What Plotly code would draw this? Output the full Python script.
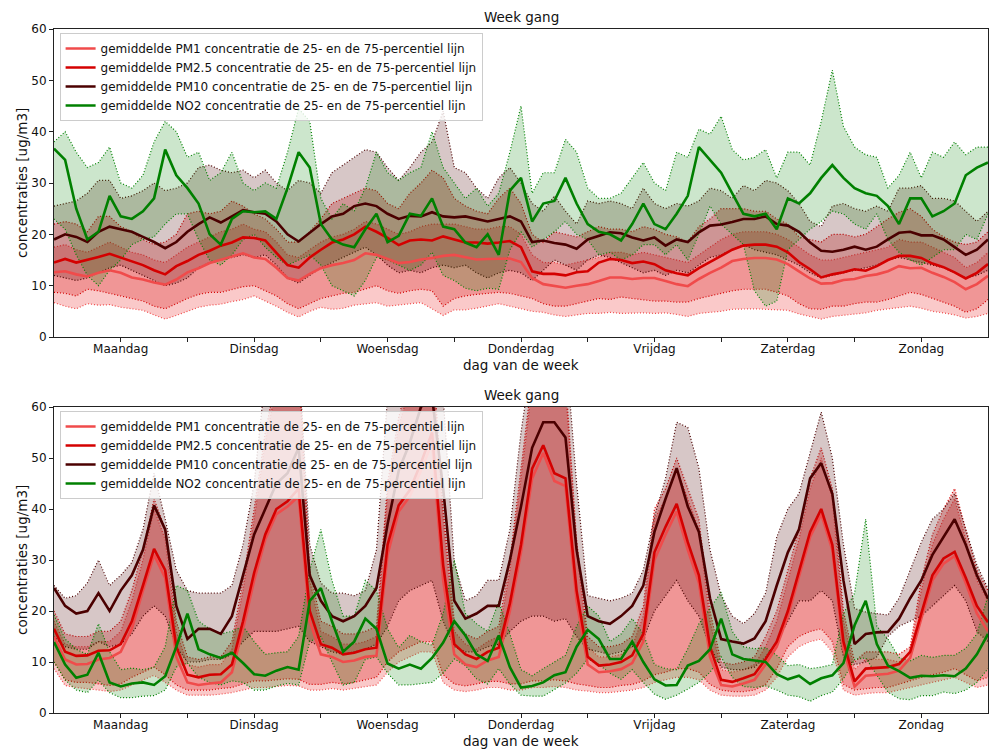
import plotly.graph_objects as go

# Two-hourly samples across one week (Monday 00:00 .. Monday 00:00)
HOURS = list(range(0, 169, 2))
DAY_LABELS = ["Maandag", "Dinsdag", "Woensdag", "Donderdag", "Vrijdag", "Zaterdag", "Zondag"]
DAY_CENTRES = [12, 36, 60, 84, 108, 132, 156]
DAY_EDGES = [24, 48, 72, 96, 120, 144]
Y_TICKS = [0, 10, 20, 30, 40, 50, 60]

POLLUTANTS = ["PM1", "PM2.5", "PM10", "NO2"]

# ---------------- upper panel ----------------
T_PM1_MEAN = [
    12.6, 12.8, 12.2, 11.8, 12.5, 13, 12.5, 11.6, 11.2, 10.6, 10.2, 11.2,
    12.6, 13.4, 14.4, 15, 15.7, 16.3, 15.5, 15.2, 13.5, 11.5, 11, 12.3,
    13.4, 14, 14.4, 15, 16.3, 16, 15.2, 14.4, 14.6, 15.1, 15.4, 15.8,
    16, 15.6, 15.1, 15.2, 15.2, 15.3, 14.6, 11.5, 10.3, 10, 9.6, 10,
    10.3, 10.9, 11.6, 11.6, 11.3, 11.5, 11.5, 10.9, 10.3, 9.9, 11.3, 12.5,
    13.5, 14.8, 15.2, 15.4, 15.4, 15.1, 14.2, 12.8, 11.4, 10.4, 10.5, 11.1,
    11.3, 11.9, 12.2, 12.8, 13.8, 13.4, 13.5, 12.5, 11.7, 10.7, 9.3, 10.3,
    11.9,
]
T_PM1_P75 = [
    17.5, 18, 17, 16.5, 17.5, 18.5, 17.5, 16.5, 16, 15, 14.5, 16,
    17.5, 18.5, 19.5, 20.5, 21, 22, 21, 20.5, 18.5, 16, 15.5, 17,
    18.5, 19.5, 20, 21, 22.5, 22, 21, 20, 20.5, 21.5, 22, 22,
    22, 21.5, 21, 21, 21.5, 21.5, 20, 16, 14.5, 14.5, 14, 14.5,
    15, 15.5, 16.5, 16.5, 16, 16.5, 16, 15.5, 15, 14.5, 16, 17.5,
    19, 20, 20.5, 20.5, 20.5, 20, 19, 17.5, 16, 15, 15, 15.5,
    16, 16.5, 17, 17.5, 19, 18.5, 18.5, 17.5, 16.5, 15.5, 13.5, 14.5,
    16.5,
]
T_PM1_P25 = [
    6.7, 6, 5.5, 6.5, 6.2, 6.3, 5.8, 5.5, 5.2, 4.3, 3.5, 4.2,
    5, 5.8, 6.2, 6.4, 6.9, 7.3, 8, 7, 6, 4.8, 3.9, 5,
    5.8, 5.4, 5.6, 6.2, 6.5, 6.7, 6, 6.2, 6.5, 6.7, 5.5, 4.2,
    5.3, 5.3, 5.6, 6, 6.5, 6, 5.5, 5, 4.8, 4.3, 4, 4.3,
    4.6, 4.6, 4.8, 4.6, 4.7, 4.7, 4.6, 4.7, 4.4, 4, 4.6, 4.8,
    5, 5.4, 5.5, 5.5, 5.4, 5.3, 5.2, 4.5, 4, 3.5, 4, 4.2,
    4.5, 4.7, 5.2, 5.5, 5.8, 6, 5.6, 5, 4.7, 4.3, 3.7, 4,
    4.6,
]
T_PM25_MEAN = [
    14.5, 15.2, 14.5, 15, 15.6, 16.2, 15.5, 14.7, 14, 13, 12.2, 13.8,
    14.8, 16, 16.8, 17.8, 18.4, 19.4, 19.3, 18.8, 16.5, 14, 13.5, 15.5,
    17, 18.4, 19, 20, 21.5, 20.5, 19.3, 17.9, 18.8, 19, 18.8, 19.6,
    19, 18.4, 18.4, 18.2, 18.4, 18.7, 17.5, 12.8, 12.3, 12.3, 12, 12.6,
    12.8, 14.5, 15.2, 15, 14.4, 14.7, 14.2, 13, 12.4, 12, 13.4, 14.6,
    15.8, 17, 17.8, 18, 18, 17.6, 16.5, 14.6, 13.2, 11.6, 12.2, 12.6,
    13.2, 12.9, 13.8, 15, 15.8, 15.8, 15.4, 14.3, 13.6, 12.6, 11.4, 12.5,
    14.2,
]
T_PM25_P75 = [
    22, 22.5, 22, 20.5, 23.5, 23.5, 21.5, 20.5, 19, 18, 18.5, 20,
    24, 24.5, 24, 24.5, 26.5, 25.5, 24, 23, 21, 18.5, 18.5, 20.5,
    23, 26, 27, 28, 29, 28.5, 26, 25, 28, 30, 32.5, 31,
    27, 25.5, 24.5, 24, 27, 29, 26, 20, 18.4, 20.5, 20, 19.5,
    20.5, 21.5, 21, 21, 20.5, 21.5, 21, 20, 19.5, 18.5, 21.5, 23,
    25, 25, 25, 24.5, 24.5, 23, 22, 19.5, 19, 18.5, 20, 20,
    19.5, 20, 21.5, 23, 24.3, 25, 23.5, 21, 19.5, 18.5, 18, 18.5,
    20.5,
]
T_PM25_P25 = [
    8.7, 8.5, 8, 9.3, 9, 8.5, 8, 7.5, 7, 6, 5.5, 6.5,
    7.5, 8.3, 8.7, 8.7, 9.3, 9.8, 10, 9, 8, 6.5, 5.5, 6.5,
    7.5, 8, 8.5, 8.7, 9.3, 10, 9, 8.5, 9, 9.3, 9, 6,
    7.5, 8, 8.3, 8.5, 8.7, 8.5, 8, 7.5, 6.5, 6, 6, 6.5,
    7, 7.5, 7.3, 7.8, 7.5, 7.3, 7, 7, 6.8, 6.8, 7.5, 8,
    8.5, 9, 9.3, 9.3, 9.3, 8.7, 8, 6.5, 5.5, 5.4, 6, 6,
    6.5, 6.8, 6.8, 7.3, 8, 8.7, 8.3, 7.5, 6.8, 6, 4.8, 5.5,
    7.3,
]
T_PM10_MEAN = [
    19, 20, 19.5, 18.5, 20.5, 21.5, 21, 20.5, 19.5, 18.5, 17.3, 18.5,
    20.5, 22, 23.3, 22.3, 23.5, 24.7, 24.3, 24, 22.5, 20, 18.6, 20.3,
    22, 23.5, 24, 25.5, 26, 25.5, 24, 23, 23.6, 23.5, 24.3, 23.5,
    23.3, 23.5, 23, 22.5, 23, 23.5, 22.5, 18.5, 18.8, 18.3, 18, 17.2,
    19, 19.7, 20.4, 20.2, 19.4, 18.8, 19.4, 17.8, 19, 18.5, 20.4, 21.7,
    21.9, 22.4, 23, 23, 23.5, 22, 21.7, 20.5, 18.4, 16.8, 16.6, 17,
    17.6, 17, 17.6, 19, 20.3, 20.5, 19.8, 19.8, 19, 17.5, 16, 17,
    19,
]
T_PM10_P75 = [
    25.5, 26, 26.5, 28, 30.5, 30.5, 27, 27.5, 28.5, 30, 28.5, 29,
    30, 33, 33.5, 32.5, 32, 32.5, 31, 32.5, 30, 28.5, 30.5, 30,
    28, 32, 33.5, 35, 36.5, 36, 33, 30.5, 33, 36, 38, 44,
    33, 32, 29, 27, 31, 33, 30, 26, 24.5, 27.5, 24.5, 22,
    26.5, 26, 26.5, 26, 25, 29, 26, 25, 26, 25.5, 26.5, 29,
    28.5, 27, 29.5, 28.5, 30.5, 30, 28.5, 26, 22.5, 21.5, 25.5, 26,
    25, 24.5, 25.5, 24.5, 29, 29, 29.5, 27, 27, 26.5, 24.5, 22.5,
    24.5,
]
T_PM10_P25 = [
    12, 11.5, 11, 11.5, 12.5, 13.5, 14, 13, 12, 11, 10, 10.5,
    11.5, 13.5, 14.5, 15, 15.5, 16, 15.5, 16, 14, 11.5, 10.5, 12,
    13.5, 14.5, 15.5, 16.5, 17.5, 16, 14, 12.5, 13, 12.5, 13.5, 14,
    13.5, 14, 12.5, 11.5, 12.5, 13, 12.5, 11, 13, 15, 14, 13,
    15, 16, 15.5, 14.5, 13.5, 12.5, 13, 12, 13, 12.5, 14, 15.5,
    16, 17, 18, 17, 16.5, 16, 15, 14, 12.5, 11.5, 12, 12.5,
    13, 13.5, 14, 15, 15.5, 15, 14.5, 14, 13.5, 12.5, 11.5, 12,
    13,
]
T_NO2_MEAN = [
    36.7, 34.5, 25, 19, 20.5, 27.5, 23.5, 23, 24.5, 27, 36.5, 31.5,
    29, 26, 20, 18, 23, 24.5, 24.3, 24.5, 23, 29, 36, 33,
    22, 19, 18, 17.5, 21, 24, 18.5, 19.7, 24, 23.6, 27, 21.5,
    21, 18.4, 17.5, 20, 16, 28.5, 31, 22.5, 26, 26.5, 31, 26,
    22, 20.5, 20, 18.8, 22, 26, 22, 21, 24, 27.5, 37, 34.5,
    32, 28, 24, 23.5, 24, 21, 27, 26, 28, 31, 33.5, 31,
    29, 28, 27.5, 25.5, 22, 27, 27, 23.5, 24.5, 26, 31.5, 33,
    34,
]
T_NO2_P75 = [
    38, 40, 36, 33, 34, 37, 30, 29, 31.5, 38, 42, 40,
    35, 36, 30.5, 32, 36, 30, 28.5, 30, 29, 36, 44.5, 42,
    27, 23, 26, 24.5, 29, 36, 32, 30.5, 32, 33, 40, 33,
    30, 27, 29, 25.5, 28, 36, 45, 28, 32, 32, 38.5, 36,
    29, 27, 27, 28, 31, 34, 30, 28.5, 36, 35, 40.5, 39.5,
    43, 36.5, 34.5, 35, 36.5, 31, 36, 36, 33.5, 42, 52, 41,
    37, 35.5, 35, 29, 31.5, 36, 31, 36, 35, 38, 35.5, 37,
    37,
]
T_NO2_P25 = [
    23, 21, 16, 12, 10, 13, 15, 18, 19, 19.5, 22, 24,
    24, 19, 15, 14, 16, 19, 20, 17.5, 15.5, 14, 15, 16,
    14, 10, 9, 8, 11, 15.5, 15, 14, 13, 14, 16.5, 12,
    11, 9.5, 9, 9.5, 9.3, 17, 20.5, 17.5, 19, 20.5, 22.5, 20,
    19, 16, 16.5, 15, 16, 18, 18, 16, 18, 15, 20, 25.5,
    22, 20, 18, 9, 6, 7, 17, 19, 21, 22.5, 24.5, 24,
    22, 21, 24, 19, 16.5, 15, 14, 15.5, 17, 17, 20, 19,
    24,
]

# ---------------- lower panel ----------------
B_PM1_MEAN = [
    15, 10.5, 9.5, 9.6, 10.5, 10.8, 12, 16.5, 24, 31, 26.5, 11,
    6, 5.5, 5.8, 6, 8, 16.5, 26, 34, 39, 40.5, 42.5, 18,
    11.5, 11, 10, 10.3, 11, 11.2, 31, 39.5, 42.5, 47.5, 53, 26,
    11.5, 9.5, 9, 10.3, 11, 20, 31.5, 46, 51, 45.5, 44.5, 22,
    9.5, 8, 8.2, 8.6, 9.8, 14, 30, 35, 39.5, 32, 25.5, 11,
    5.5, 5.2, 5.8, 6.5, 9.5, 13, 19, 26.5, 34.5, 39, 32, 12.5,
    5.2, 7.3, 7.5, 7.7, 8.3, 10.8, 18.5, 26, 29.3, 30.8, 25.5, 19.5,
    16,
]
B_PM1_P75 = [
    18, 13.5, 13, 13, 14, 14, 16, 22, 30, 40, 34, 16,
    9.5, 9, 9.5, 9.5, 12.5, 24, 38, 53, 64, 68, 68, 26,
    16, 15, 13.5, 13.5, 14, 15, 43, 56, 64, 68, 70, 38,
    16, 13.5, 12.5, 14, 15, 28, 46, 64, 70, 68, 64, 32,
    13, 11, 11, 11.5, 13, 19, 38, 42, 48, 42, 36, 18,
    8.5, 8, 8.5, 9.5, 13, 18, 26, 34, 44, 50, 42, 18,
    8.5, 10.5, 10.5, 10.5, 10, 12, 24, 33, 38, 42, 34, 26,
    22,
]
B_PM1_P25 = [
    8.7, 5.4, 5, 4.8, 4.5, 4.2, 4.5, 5.5, 6.5, 7.4, 6, 4.5,
    3.5, 3.5, 3.5, 3.7, 4, 4.5, 5, 5, 5.2, 5.4, 5.3, 4.5,
    4.5, 4.8, 4.5, 4.8, 5.2, 5.5, 8, 10, 11, 12, 12, 6,
    4.5, 4.2, 4.5, 5, 5, 4.5, 4.5, 5, 5, 5.2, 5, 4.5,
    4.3, 4, 4, 4.3, 4.5, 5, 6, 6.5, 7, 7, 6.5, 4.5,
    3.5, 3.3, 3.3, 3.5, 4.5, 7, 11, 13, 14, 14.5, 12, 4.5,
    3.5, 3.8, 4, 4, 4.5, 5, 5.5, 6, 6.5, 7, 6, 5,
    5.5,
]
B_PM25_MEAN = [
    16.5, 12, 11.2, 11.3, 12.2, 12.3, 13.5, 18, 25, 32.2, 28, 13,
    7.5, 7, 7.5, 7.6, 9.5, 18, 27.5, 35, 40, 41.5, 44, 20,
    13.5, 12.8, 11.5, 11.8, 12.5, 12.8, 33, 40.7, 43.7, 49, 55, 29,
    13.5, 11.5, 10.6, 12, 12.8, 21.5, 33, 47.9, 52.5, 47, 46, 24,
    11, 9.3, 9.5, 10, 11.3, 15.5, 31.5, 36.5, 41, 33.5, 27, 13,
    6.5, 6.1, 6.8, 7.6, 10.6, 14, 20, 27.5, 35.5, 40, 33, 14,
    6.2, 8.7, 8.9, 9, 9.6, 12, 19.5, 27, 30.3, 31.6, 26.5, 21,
    17.8,
]
B_PM25_P75 = [
    20, 15.5, 15, 15, 16, 16, 18, 24, 32, 42, 36, 18,
    11, 10.5, 11, 11, 14, 26, 40, 55, 66, 70, 70, 28,
    18, 17, 15.5, 15.5, 16, 17, 45, 58, 66, 70, 72, 40,
    18, 15.5, 14.5, 16, 17, 30, 48, 66, 72, 70, 66, 34,
    15, 13, 13, 13.5, 15, 21, 40, 44, 50, 44, 38, 20,
    10, 9.5, 10, 11, 15, 20, 28, 36, 46, 52, 44, 20,
    10, 12, 12, 12, 11.5, 13, 26, 35, 40, 44, 36, 28,
    24,
]
B_PM25_P25 = [
    10, 6.5, 6, 6, 5.7, 5.4, 5.7, 7, 8, 9, 7.5, 5.5,
    4.5, 4.5, 4.5, 4.8, 5, 5.7, 6.3, 6.3, 6.5, 6.7, 6.6, 5.6,
    5.6, 6, 5.7, 6, 6.5, 7, 10, 12, 13, 14, 14, 7.5,
    5.7, 5.3, 5.7, 6.2, 6.2, 5.7, 5.7, 6.3, 6.3, 6.5, 6.3, 5.7,
    5.4, 5, 5, 5.4, 5.6, 6.3, 7.5, 8, 8.7, 8.7, 8, 5.6,
    4.5, 4.2, 4.2, 4.5, 5.6, 8.7, 13, 15, 16, 16.5, 14, 5.6,
    4.5, 4.8, 5, 5, 5.6, 6.3, 7, 7.5, 8, 8.7, 7.5, 6.3,
    7,
]
B_PM10_MEAN = [
    24.5, 21, 19.5, 20, 23.5, 20, 24, 27, 32, 40.7, 36, 21,
    14.5, 16.5, 16.5, 15.5, 19, 27, 35, 40, 45, 47, 52, 27,
    22, 19, 18, 19, 21, 24.5, 37, 47.5, 53, 60, 62, 44,
    22, 18.5, 19.5, 21, 21, 30, 40.5, 52, 57, 57, 54, 32,
    19, 18, 17.5, 19, 21, 25, 35.5, 42, 48, 40.5, 35.5, 22.5,
    14.5, 14, 13.6, 14.6, 18, 25, 31.5, 36, 46, 49, 43, 26,
    13.5, 15.5, 15.8, 15.9, 18.5, 22.5, 26, 31, 34.5, 38, 33, 27,
    22.4,
]
B_PM10_P75 = [
    25, 22.5, 23, 25.5, 30, 25, 27, 29.5, 36, 47, 38, 28,
    24, 23.5, 23.5, 23.5, 25, 33, 45, 66, 70, 72, 70, 33,
    25.5, 23.5, 23.5, 23, 24, 32, 62, 70, 72, 75, 75, 62,
    29.5, 22, 23, 26, 26, 36, 55, 70, 75, 75, 72, 45,
    23, 22.5, 22, 22.5, 23.5, 28, 38.5, 46, 57, 56, 48, 32,
    23, 19, 17.5, 19.5, 23.5, 34.5, 40, 43, 51, 59, 50, 33,
    20.5, 19.8, 19.5, 19.2, 22.5, 28, 33.5, 38, 40, 43, 36, 29,
    24.4,
]
B_PM10_P25 = [
    15, 13, 12.5, 12.5, 14, 13, 13.5, 15.5, 19, 21, 19, 13,
    10, 10, 10.5, 10.5, 11.5, 14, 16, 16, 16, 16.5, 17, 14,
    13, 12, 11.5, 12, 12.5, 13.5, 17, 22, 24, 25, 26, 18,
    13, 12, 12, 13, 13.5, 16, 18, 19, 19, 18, 18.5, 15,
    12.5, 12, 11.5, 12, 13, 14.5, 20, 23, 26, 22, 19, 13,
    9, 8.5, 8.5, 9, 11, 14, 18, 22, 22, 24, 22, 11,
    9.5, 10, 11, 15, 17, 18, 19, 21, 23, 25, 22, 16,
    14,
]
B_NO2_MEAN = [
    13.9, 9.5, 6.9, 7.5, 11.8, 6, 5.2, 5.8, 6, 5.5, 7.2, 13,
    19.5, 12.5, 11.5, 10.8, 11.8, 9.8, 7.6, 7.3, 8.3, 9, 8.5, 22,
    24.5, 18, 12, 14, 18.5, 16.5, 9.7, 8.7, 9.5, 8.7, 10.8, 13.8,
    18, 15.2, 11.5, 10.2, 15.2, 9, 5, 5.3, 6, 7.4, 8, 13,
    16.3, 14.5, 10.6, 10.6, 14, 10, 6.6, 5.4, 5.5, 9.3, 10.2, 12.5,
    18.5, 11.5, 10.6, 10.3, 10, 7.6, 6.6, 7.3, 5.7, 6.8, 7.4, 9.8,
    17.2, 22, 13.5, 9.3, 8.2, 6.9, 7.3, 7.2, 7.4, 7.2, 8.7, 11.5,
    15.5,
]
B_NO2_P75 = [
    19.2, 14.5, 12.5, 11.5, 17.5, 12, 8.5, 8.8, 8.5, 9, 13, 25,
    24, 18, 16.5, 15.5, 16, 17, 14, 11.5, 11.8, 12, 15, 28,
    36, 26, 19, 19, 26, 24, 16.5, 12.8, 15.2, 14, 13.3, 19.5,
    30, 19.5, 17.5, 16, 21.8, 15.5, 8.5, 7.3, 8.7, 10, 11.3, 17,
    21, 19, 14, 15.5, 18.5, 15.5, 9.5, 8.7, 8.5, 12.6, 17.5, 20.5,
    23.7, 16, 13, 12.6, 12.8, 11.3, 9.3, 9.5, 8.7, 9, 9.5, 19.5,
    23.5, 38, 17, 14.5, 10.9, 10.2, 11.3, 10.9, 11.3, 11.3, 12.7, 15.5,
    23,
]
B_NO2_P25 = [
    10, 6.5, 4.5, 4, 6.5, 4, 3, 3, 3.3, 3.4, 4.5, 9,
    9.8, 7, 6, 5.5, 6.3, 6, 4.5, 4.5, 5.3, 5.8, 5.5, 14,
    15, 10, 5.5, 6, 10.5, 11, 7.8, 5.5, 5.5, 5.8, 6, 7.8,
    10.6, 9.3, 6.7, 5.7, 8.7, 5.7, 3.5, 3.3, 3.3, 4.6, 5.9, 7.8,
    10.6, 9.5, 7.8, 6.6, 8.5, 6, 3.7, 2.7, 3.5, 4.7, 6, 8,
    11, 7, 5.2, 5, 5.3, 4.5, 3.5, 3.2, 2.3, 3.4, 4.1, 6.7,
    10.5, 10.8, 7.5, 4.1, 2.8, 2.6, 3.4, 3.4, 4.1, 3.8, 4.5, 6,
    8.7,
]

UPPER = {
    "PM1": (T_PM1_MEAN, T_PM1_P25, T_PM1_P75),
    "PM2.5": (T_PM25_MEAN, T_PM25_P25, T_PM25_P75),
    "PM10": (T_PM10_MEAN, T_PM10_P25, T_PM10_P75),
    "NO2": (T_NO2_MEAN, T_NO2_P25, T_NO2_P75),
}
LOWER = {
    "PM1": (B_PM1_MEAN, B_PM1_P25, B_PM1_P75),
    "PM2.5": (B_PM25_MEAN, B_PM25_P25, B_PM25_P75),
    "PM10": (B_PM10_MEAN, B_PM10_P25, B_PM10_P75),
    "NO2": (B_NO2_MEAN, B_NO2_P25, B_NO2_P75),
}

for panel in (UPPER, LOWER):
    for key, arrays in panel.items():
        for arr in arrays:
            if len(arr) != len(HOURS):
                raise ValueError(f"{key}: {len(arr)} values, expected {len(HOURS)}")

LINE_COLOURS = {"PM1": "#f04b4b", "PM2.5": "#d40000", "PM10": "#4b0000", "NO2": "#008000"}
FILL_COLOURS = {
    "PM1": "rgba(240,75,75,0.30)",
    "PM2.5": "rgba(212,0,0,0.25)",
    "PM10": "rgba(75,0,0,0.22)",
    "NO2": "rgba(0,128,0,0.20)",
}

FONT = "DejaVu Sans"
fig = go.Figure()


def add_panel(data, xref, yref, legend):
    # shaded 25-75 percentile bands with dotted edges
    for key in POLLUTANTS:
        mean, p25, p75 = data[key]
        edge = dict(color=LINE_COLOURS[key], width=1.2, dash="1px,2px")
        fig.add_trace(go.Scatter(x=HOURS, y=p75, mode="lines", line=edge,
                                 xaxis=xref, yaxis=yref, showlegend=False,
                                 hoverinfo="skip"))
        fig.add_trace(go.Scatter(x=HOURS, y=p25, mode="lines", line=edge,
                                 fill="tonexty", fillcolor=FILL_COLOURS[key],
                                 xaxis=xref, yaxis=yref, showlegend=False,
                                 hoverinfo="skip"))
    # mean lines on top
    for key in POLLUTANTS:
        mean = data[key][0]
        fig.add_trace(go.Scatter(
            x=HOURS, y=mean, mode="lines",
            line=dict(color=LINE_COLOURS[key], width=2.6),
            name=f"gemiddelde {key} concentratie de 25- en de 75-percentiel lijn",
            xaxis=xref, yaxis=yref, legend=legend,
        ))


add_panel(UPPER, "x", "y", "legend")
add_panel(LOWER, "x2", "y2", "legend2")

H_TOTAL = 749 - 29 - 36
TOP_LOW = (713 - 337) / H_TOTAL
BOT_HIGH = (713 - 407) / H_TOTAL

xaxis_style = dict(
    range=[0, 168], showgrid=False, zeroline=False,
    showline=True, mirror=True, linecolor="#222222", linewidth=1,
    tickmode="array", tickvals=DAY_CENTRES, ticktext=DAY_LABELS,
    ticks="outside", ticklen=4, tickwidth=1, tickcolor="#222222",
    ticklabelstandoff=-3,
    tickfont=dict(family=FONT, size=12, color="#111111"),
    minor=dict(tickmode="array", tickvals=DAY_EDGES, ticks="outside",
               ticklen=4, tickwidth=1, tickcolor="#222222"),
)
yaxis_style = dict(
    range=[0, 60], showgrid=False, zeroline=False,
    showline=True, mirror=True, linecolor="#222222", linewidth=1,
    tickmode="array", tickvals=Y_TICKS,
    ticks="outside", ticklen=4, tickwidth=1, tickcolor="#222222",
    tickfont=dict(family=FONT, size=12, color="#111111"),
)

legend_style = dict(
    bgcolor="rgba(255,255,255,0.8)", bordercolor="#cccccc", borderwidth=1,
    font=dict(family=FONT, size=12, color="#111111"),
    xanchor="left", yanchor="top", tracegroupgap=0, traceorder="normal",
)

fig.update_layout(
    width=989, height=749,
    margin=dict(l=54, r=1, t=29, b=36),
    paper_bgcolor="white", plot_bgcolor="white",
    font=dict(family=FONT, size=12, color="#111111"),
    xaxis=dict(domain=[0, 1], anchor="y", **xaxis_style),
    yaxis=dict(domain=[TOP_LOW, 1], anchor="x", **yaxis_style),
    xaxis2=dict(domain=[0, 1], anchor="y2", **xaxis_style),
    yaxis2=dict(domain=[0, BOT_HIGH], anchor="x2", **yaxis_style),
    legend=dict(x=0.006, y=(713 - 33) / H_TOTAL, **legend_style),
    legend2=dict(x=0.006, y=(713 - 411) / H_TOTAL, **legend_style),
    showlegend=True,
)


def px_to_paper_y(py):
    return (713 - py) / H_TOTAL


def px_to_paper_x(px):
    return (px - 54) / 934


texts = [
    ("Week gang", 0.5, px_to_paper_y(17), 13.5, 0),
    ("Week gang", 0.5, px_to_paper_y(395), 13.5, 0),
    ("dag van de week", 0.5, px_to_paper_y(365), 13.5, 0),
    ("dag van de week", 0.5, px_to_paper_y(741), 13.5, 0),
    ("concentraties [ug/m3]", px_to_paper_x(22), px_to_paper_y(183), 13.5, -90),
    ("concentraties [ug/m3]", px_to_paper_x(22), px_to_paper_y(560), 13.5, -90),
]
for text, x, y, size, angle in texts:
    fig.add_annotation(text=text, x=x, y=y, xref="paper", yref="paper",
                       xanchor="center", yanchor="middle", showarrow=False,
                       textangle=angle,
                       font=dict(family=FONT, size=size, color="#111111"))

fig.write_html("out.html")
